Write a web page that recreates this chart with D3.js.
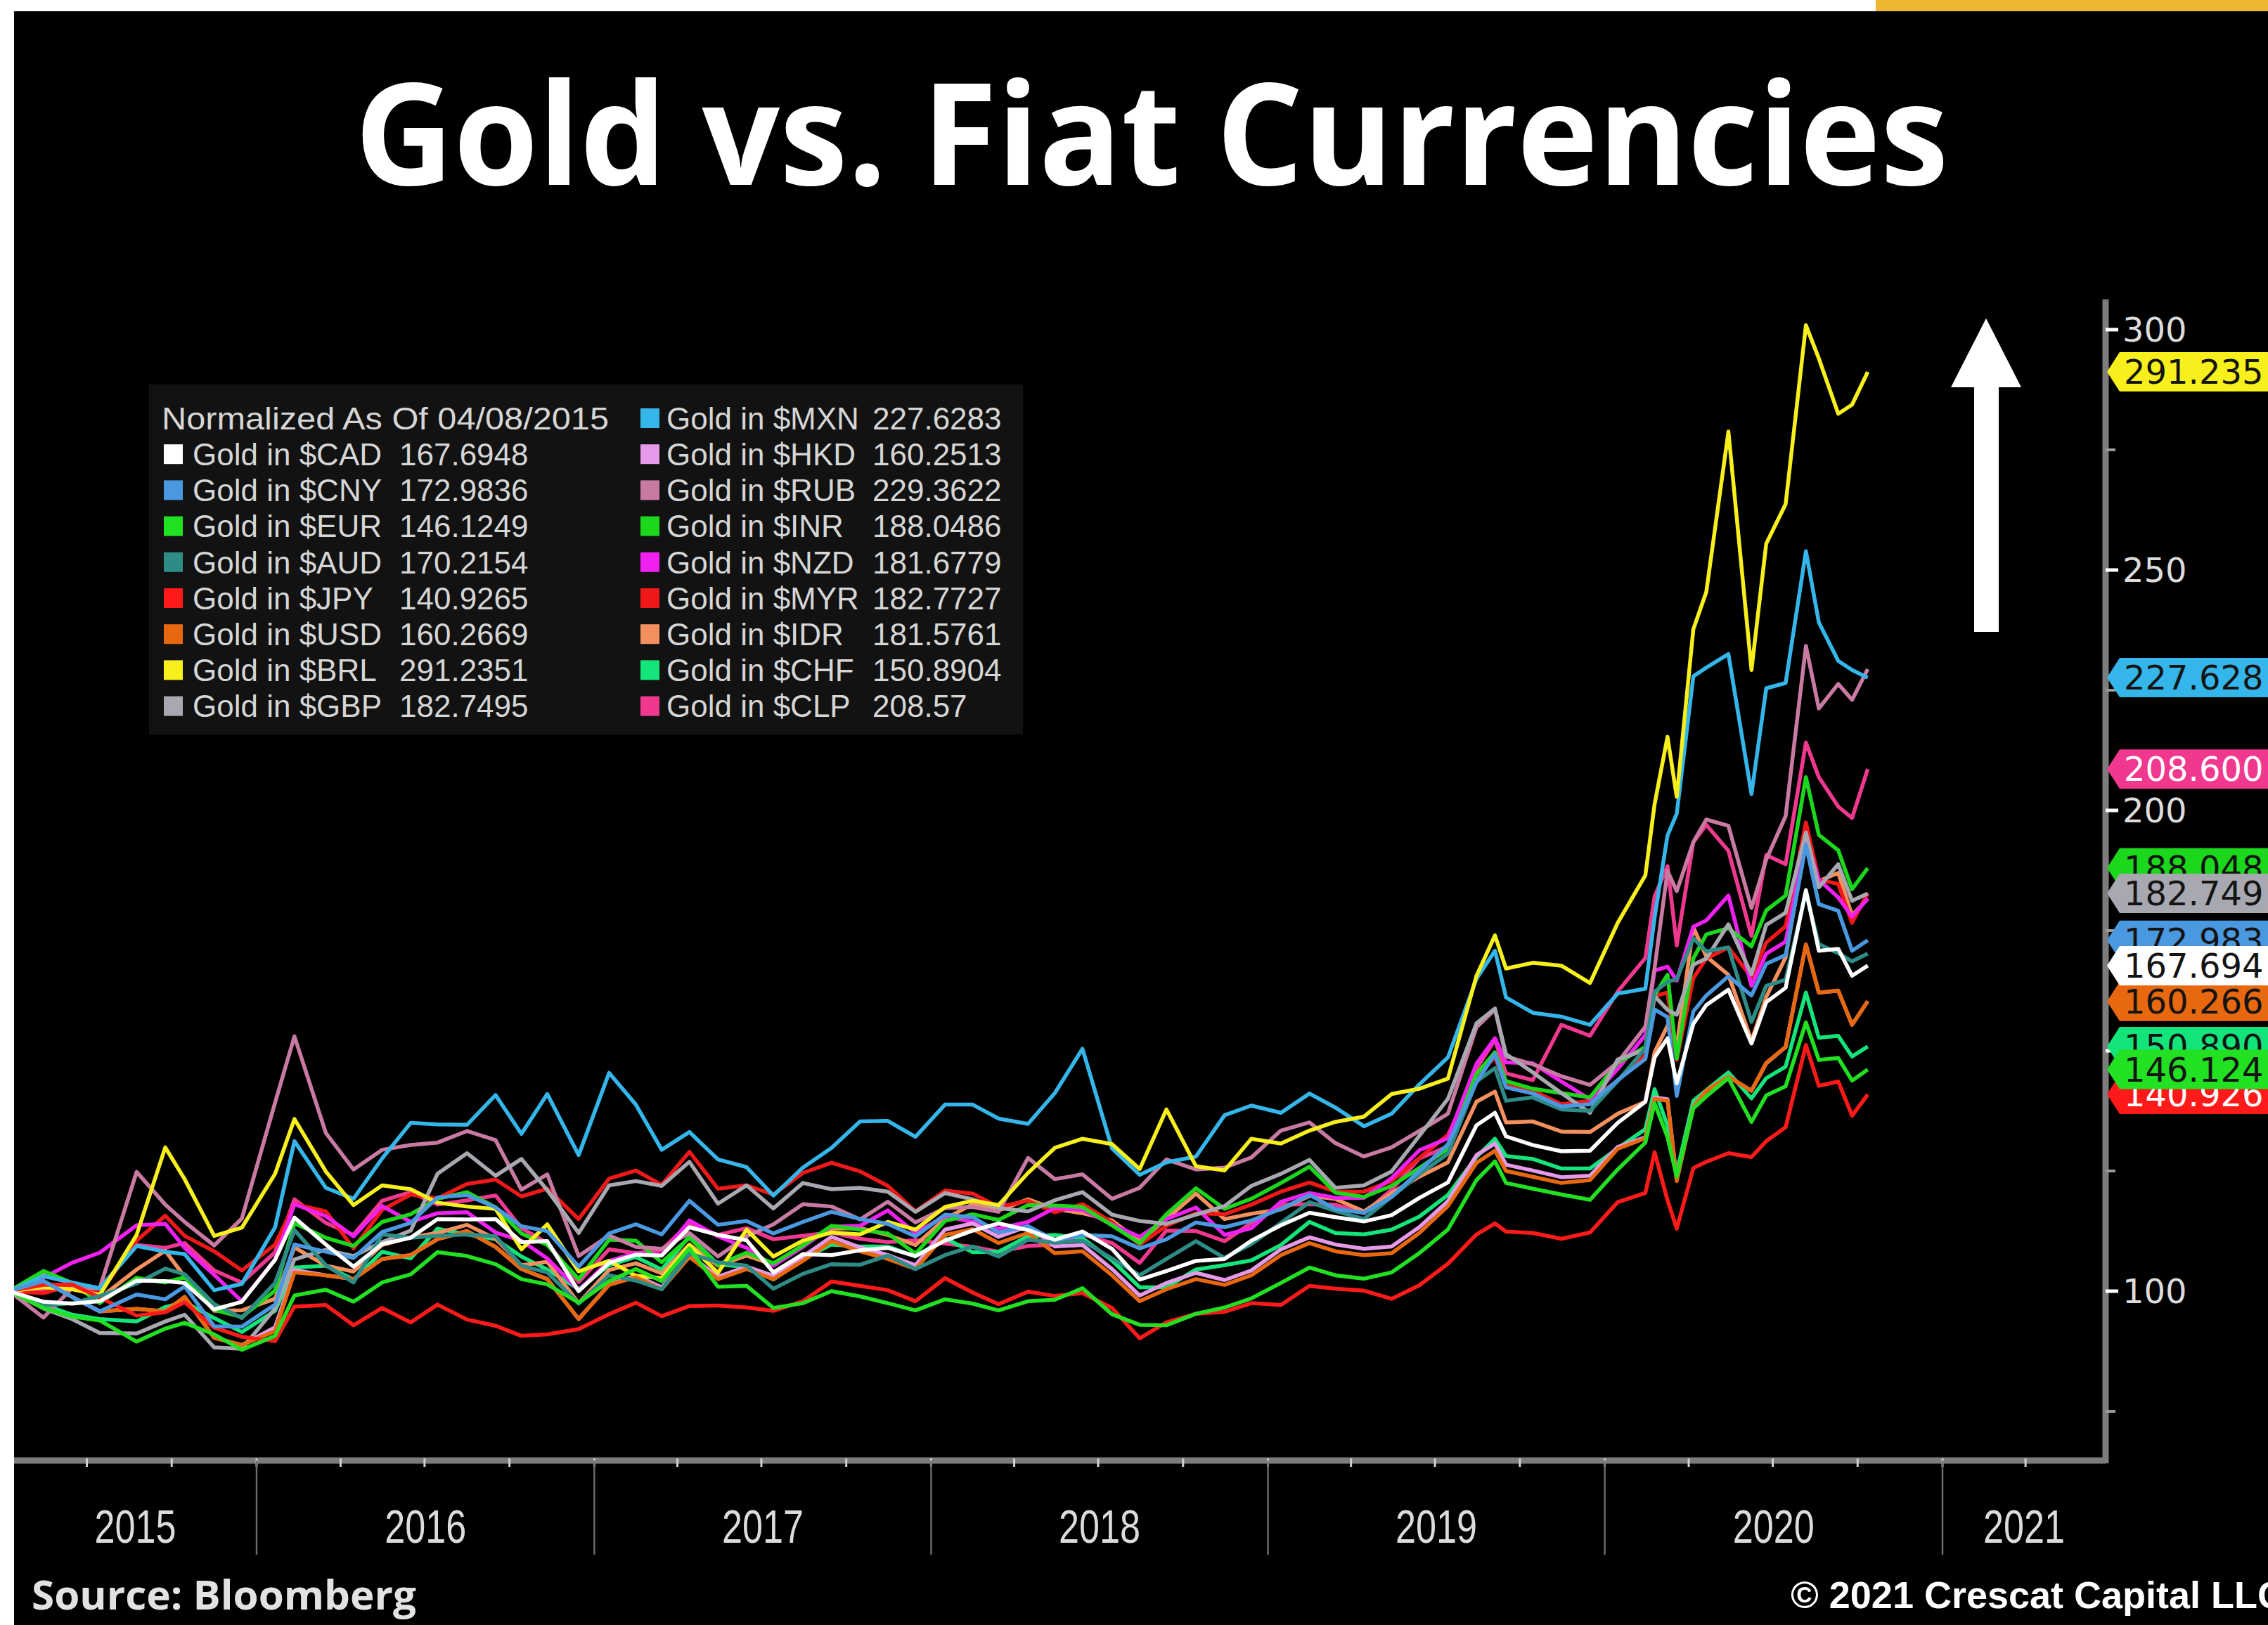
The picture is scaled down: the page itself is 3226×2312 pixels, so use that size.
<!DOCTYPE html>
<html>
<head>
<meta charset="utf-8">
<script src="https://cdnjs.cloudflare.com/ajax/libs/d3/7.8.5/d3.min.js"></script>
<style>
html, body { margin: 0; padding: 0; background: #fff; overflow: hidden; }
svg { display: block; }
</style>
</head>
<body>
<script>
// sample dates (one or two a month, extra points on the big swings)
const dates = [
  "2015-04-08","2015-05-15","2015-06-15","2015-07-15","2015-08-24","2015-09-24","2015-10-15","2015-11-16","2015-12-16",
  "2016-01-21","2016-02-11","2016-03-16","2016-04-15","2016-05-16","2016-06-16","2016-07-15","2016-08-16","2016-09-16","2016-10-14","2016-11-11","2016-12-15",
  "2017-01-17","2017-02-15","2017-03-15","2017-04-14","2017-05-15","2017-06-15","2017-07-14","2017-08-15","2017-09-15","2017-10-16","2017-11-15","2017-12-15",
  "2018-01-16","2018-02-15","2018-03-15","2018-04-16","2018-05-15","2018-06-14","2018-07-16","2018-08-15","2018-09-13","2018-10-15","2018-11-15","2018-12-14",
  "2019-01-15","2019-02-15","2019-03-15","2019-04-15","2019-05-15","2019-06-14","2019-07-15","2019-08-15","2019-09-04","2019-09-16","2019-10-15","2019-11-15","2019-12-16",
  "2020-01-15","2020-02-14","2020-02-24","2020-03-09","2020-03-19","2020-04-06","2020-04-20","2020-05-14","2020-06-08","2020-06-24","2020-07-15","2020-08-06","2020-08-20","2020-09-10","2020-09-25","2020-10-12"
];

// gold normalized to 100 on 04/08/2015, one array per currency
const cad = [100, 97.8, 97.4, 97.9, 102.2, 102.1, 101.7, 96.2, 97.8, 106.5,
  115.3, 109.7, 105.1, 109.8, 111.1, 115.0, 114.9, 115.0, 110.2, 110.4,
  100.0, 105.9, 107.6, 107.4, 113.3, 111.7, 110.6, 103.9, 107.7, 107.5,
  108.5, 109.0, 107.3, 110.5, 112.6, 114.1, 112.7, 110.7, 112.4, 108.8,
  102.4, 104.2, 106.3, 106.7, 110.5, 113.7, 116.3, 115.4, 114.5, 115.8,
  119.4, 122.6, 134.5, 137.1, 132.2, 130.4, 129.1, 129.2, 135.0, 139.4, 148.6,
  152.6, 143.2, 155.6, 159.5, 162.7, 151.5, 160.1, 163.1, 183.4, 170.8,
  171.2, 165.6, 167.7];
const cny = [100, 102.1, 98.8, 95.8, 99.3, 98.3, 101.0, 92.7, 92.6, 97.2,
  109.7, 108.2, 106.9, 112.3, 114.2, 119.5, 120.0, 117.4, 113.5, 112.5,
  105.1, 112.0, 113.9, 111.8, 118.8, 113.8, 114.6, 112.0, 114.4, 116.5,
  115.0, 114.0, 111.4, 115.9, 115.4, 112.2, 113.5, 110.6, 111.7, 111.4,
  108.9, 110.8, 114.3, 113.3, 114.7, 117.1, 120.0, 117.1, 116.3, 119.6,
  125.0, 130.5, 143.5, 149.3, 142.4, 141.1, 138.4, 138.9, 143.9, 148.3, 158.6,
  157.0, 140.6, 158.2, 161.5, 165.5, 161.5, 168.1, 169.9, 192.8, 180.5,
  179.1, 170.8, 173.0];
const eur = [100, 96.5, 94.7, 93.9, 89.5, 92.2, 93.4, 91.0, 87.8, 90.7,
  99.1, 100.3, 97.8, 101.8, 103.5, 108.1, 107.3, 105.6, 102.5, 101.4,
  97.6, 102.1, 104.6, 102.1, 108.9, 100.9, 101.1, 96.5, 97.5, 100.0,
  98.9, 97.5, 96.0, 98.3, 97.4, 96.0, 97.9, 98.2, 100.6, 95.2,
  93.0, 92.9, 95.3, 96.6, 98.5, 101.7, 104.9, 103.3, 102.6, 103.9,
  107.9, 112.8, 123.1, 127.0, 122.5, 121.3, 120.1, 119.0, 125.3, 130.9, 139.1,
  132.0, 123.8, 138.0, 140.5, 144.3, 135.2, 140.7, 142.6, 155.9, 148.1,
  148.5, 143.8, 146.1];
const aud = [100, 97.0, 97.5, 99.0, 101.6, 104.7, 103.5, 97.3, 94.4, 101.7,
  112.7, 105.4, 101.8, 111.8, 111.1, 111.5, 111.8, 111.4, 105.3, 103.9,
  97.4, 103.3, 102.2, 100.4, 107.8, 106.0, 105.3, 100.5, 103.6, 105.6,
  105.5, 107.4, 104.6, 107.5, 109.3, 107.2, 110.7, 110.1, 110.5, 106.8,
  103.3, 106.7, 110.4, 106.9, 109.8, 114.2, 118.5, 116.7, 115.0, 119.6,
  124.3, 128.6, 143.6, 146.4, 139.6, 140.3, 137.8, 137.5, 143.7, 150.5, 162.3,
  164.3, 164.9, 173.4, 170.7, 171.5, 156.0, 163.5, 164.8, 182.9, 172.2,
  170.3, 168.6, 170.2];
const jpy = [100, 101.3, 101.4, 98.7, 94.9, 95.6, 97.7, 92.4, 90.5, 89.6,
  96.8, 97.1, 92.9, 96.5, 93.5, 97.2, 94.1, 92.8, 90.7, 91.0,
  92.1, 95.2, 97.6, 94.8, 96.9, 97.0, 96.6, 95.9, 97.9, 102.0,
  101.1, 100.2, 97.9, 102.7, 99.7, 97.3, 99.9, 99.0, 99.6, 96.5,
  90.2, 93.5, 95.3, 95.7, 97.5, 97.1, 101.1, 100.5, 100.1, 98.4,
  101.2, 105.7, 111.8, 114.1, 112.4, 112.1, 110.9, 112.2, 118.5, 120.4, 128.9,
  118.9, 113.0, 125.6, 126.9, 128.7, 127.9, 131.2, 134.1, 151.2, 142.7,
  143.6, 136.5, 140.9];
const usd = [100, 102.1, 98.8, 95.8, 96.3, 95.8, 98.8, 90.3, 88.8, 91.7,
  103.9, 103.3, 102.5, 106.7, 107.5, 110.8, 112.5, 109.2, 104.6, 102.5,
  94.2, 101.3, 102.9, 100.4, 107.1, 102.5, 104.6, 102.5, 106.3, 110.4,
  108.3, 106.7, 104.6, 111.7, 112.9, 110.0, 112.1, 107.9, 108.3, 103.3,
  97.9, 100.4, 102.5, 101.3, 103.3, 107.5, 110.0, 108.3, 107.5, 107.9,
  112.1, 117.7, 126.7, 129.2, 125.0, 123.8, 122.5, 123.1, 129.6, 131.8, 140.0,
  139.6, 122.9, 138.3, 141.7, 144.6, 141.7, 147.5, 150.8, 172.1, 162.1,
  162.5, 155.4, 160.3];
const brl = [100, 100.8, 100.4, 99.2, 111.7, 129.9, 123.3, 111.5, 113.2, 124.4,
  135.8, 124.9, 117.9, 122.0, 121.2, 118.4, 117.6, 117.1, 108.7, 113.9,
  104.1, 106.3, 103.2, 102.7, 109.6, 103.8, 112.8, 107.2, 110.5, 112.2,
  111.8, 114.4, 112.8, 117.5, 118.8, 117.9, 124.6, 129.8, 131.7, 130.6,
  125.4, 137.8, 126.0, 125.1, 131.7, 130.7, 133.4, 135.2, 136.3, 141.0,
  142.1, 144.2, 165.6, 174.0, 167.1, 168.3, 167.7, 164.1, 176.6, 186.5, 201.3,
  215.3, 202.8, 237.7, 245.4, 278.8, 229.2, 255.5, 263.7, 300.9, 294.0,
  282.5, 284.4, 291.2];
const gbp = [100, 96.4, 94.2, 91.3, 91.2, 93.7, 95.1, 88.3, 88.0, 96.4,
  106.6, 108.6, 107.3, 110.2, 112.6, 124.4, 128.7, 124.0, 127.5, 121.0,
  112.1, 122.0, 122.9, 121.9, 126.9, 118.2, 122.0, 117.2, 122.5, 121.2,
  121.5, 120.7, 116.5, 120.4, 119.1, 117.3, 116.6, 118.9, 120.6, 115.9,
  114.6, 114.0, 115.9, 117.7, 121.9, 124.4, 127.3, 121.5, 122.0, 124.9,
  132.3, 140.0, 155.7, 158.8, 149.3, 145.5, 141.2, 137.1, 148.2, 150.2, 161.4,
  158.5, 157.5, 167.9, 169.2, 176.3, 165.9, 176.2, 178.7, 195.4, 184.0,
  188.8, 181.2, 182.7];
const mxn = [100, 103.1, 101.8, 100.6, 109.4, 108.2, 107.7, 100.2, 101.5, 113.3,
  131.2, 121.5, 119.2, 127.6, 135.0, 134.7, 134.6, 140.8, 132.7, 141.0,
  128.3, 145.4, 138.8, 129.4, 133.1, 127.4, 125.8, 119.9, 125.7, 129.8,
  135.3, 135.4, 132.1, 138.8, 138.8, 135.9, 134.8, 141.2, 150.4, 129.7,
  124.2, 126.8, 128.0, 136.6, 138.6, 137.1, 141.1, 138.2, 134.3, 136.9,
  143.0, 148.6, 165.0, 170.8, 161.1, 157.9, 157.1, 155.4, 161.9, 162.9, 177.7,
  194.8, 199.3, 227.9, 229.7, 232.5, 203.4, 225.4, 226.5, 253.9, 239.1,
  231.1, 229.2, 227.6];
const hkd = [100, 102.1, 98.8, 95.8, 96.3, 95.8, 98.8, 90.3, 88.8, 92.5,
  104.4, 103.3, 102.5, 106.7, 107.5, 110.8, 112.5, 109.2, 104.6, 102.5,
  94.2, 101.4, 103.2, 100.8, 107.5, 103.0, 105.1, 103.2, 107.2, 111.3,
  109.1, 107.5, 105.4, 112.8, 114.1, 111.3, 113.5, 109.3, 109.6, 104.6,
  99.1, 101.7, 103.8, 102.3, 104.3, 108.7, 111.2, 109.7, 108.8, 109.3,
  113.3, 118.7, 128.3, 130.7, 126.3, 125.1, 123.7, 124.0, 130.0, 132.0, 140.3,
  139.9, 123.2, 138.4, 141.7, 144.6, 141.7, 147.4, 150.8, 172.1, 162.1,
  162.5, 155.4, 160.3];
const rub = [100, 94.5, 100.6, 100.6, 124.8, 118.0, 114.4, 109.5, 115.1, 139.2,
  153.0, 132.9, 125.3, 129.4, 130.4, 130.9, 133.3, 131.4, 121.1, 124.3,
  107.3, 111.6, 109.2, 108.8, 112.1, 107.2, 111.4, 113.9, 118.1, 117.6,
  114.9, 118.6, 114.3, 117.3, 117.5, 116.5, 127.7, 123.3, 124.3, 119.2,
  121.5, 127.4, 125.3, 125.7, 127.8, 133.4, 135.1, 130.8, 128.0, 129.9,
  133.3, 136.9, 154.9, 158.6, 148.8, 147.2, 144.7, 142.9, 147.6, 155.0, 167.2,
  187.4, 183.2, 193.4, 198.1, 196.8, 179.7, 189.8, 198.8, 234.2, 221.2,
  226.3, 223.0, 229.4];
const inr = [100, 104.2, 101.7, 97.5, 102.8, 101.8, 102.9, 96.1, 94.6, 100.1,
  114.1, 111.1, 109.4, 114.4, 116.0, 119.2, 120.6, 117.4, 112.0, 109.6,
  102.5, 110.7, 110.5, 106.0, 111.1, 105.5, 108.0, 105.8, 109.5, 113.6,
  112.8, 112.0, 107.8, 114.6, 116.0, 114.8, 117.9, 117.8, 117.5, 113.7,
  110.0, 116.0, 121.4, 117.1, 119.2, 122.5, 125.9, 120.5, 119.6, 121.9,
  125.6, 129.6, 145.2, 149.7, 143.7, 142.1, 141.2, 140.3, 147.5, 150.8, 161.6,
  165.8, 148.4, 169.2, 174.2, 175.5, 171.7, 179.2, 182.3, 206.9, 194.9,
  191.7, 183.6, 188.0];
const nzd = [100, 102.8, 105.9, 108.0, 113.7, 114.0, 109.0, 103.4, 97.9, 106.6,
  118.1, 115.6, 111.4, 117.7, 114.4, 116.2, 116.4, 112.2, 110.5, 106.8,
  100.2, 106.3, 107.9, 107.6, 114.7, 111.4, 109.0, 105.3, 109.2, 113.4,
  113.6, 116.8, 112.1, 115.6, 114.4, 113.0, 114.4, 117.3, 116.9, 113.9,
  111.3, 115.0, 117.4, 111.7, 113.1, 118.6, 120.4, 119.4, 119.4, 123.5,
  129.3, 131.8, 147.3, 152.6, 147.6, 147.4, 143.6, 139.9, 146.2, 153.3, 166.7,
  167.5, 164.6, 175.8, 177.1, 182.3, 163.5, 170.2, 172.7, 194.1, 185.6,
  181.9, 177.9, 181.7];
const myr = [100, 99.6, 101.2, 99.5, 110.5, 115.7, 111.5, 108.3, 104.3, 109.7,
  118.1, 116.6, 108.9, 116.9, 120.1, 119.3, 122.3, 123.2, 119.7, 121.3,
  115.0, 123.4, 125.1, 122.1, 129.0, 121.3, 122.0, 120.1, 124.6, 126.7,
  124.9, 121.9, 116.6, 120.9, 120.3, 117.5, 118.8, 116.4, 118.1, 114.3,
  109.7, 113.6, 116.2, 116.0, 118.0, 120.7, 122.6, 120.7, 120.7, 122.9,
  127.7, 132.5, 145.0, 148.6, 142.8, 141.7, 138.9, 139.6, 143.8, 149.1, 161.4,
  162.1, 148.1, 165.1, 169.2, 171.5, 165.3, 172.5, 175.9, 197.5, 185.6,
  184.7, 176.6, 182.8];
const idr = [100, 103.3, 101.7, 98.5, 104.5, 108.4, 103.0, 95.9, 96.0, 98.4,
  109.1, 105.3, 104.1, 109.6, 111.2, 112.1, 113.8, 110.9, 105.4, 106.1,
  97.5, 104.4, 105.8, 103.7, 109.7, 105.3, 107.4, 105.5, 109.6, 113.0,
  113.1, 111.7, 109.6, 115.0, 118.1, 116.8, 119.1, 117.1, 116.2, 114.7,
  110.4, 115.0, 120.3, 115.0, 116.1, 117.0, 119.8, 119.2, 116.6, 120.4,
  123.8, 126.8, 139.4, 141.5, 135.1, 135.3, 133.2, 133.1, 136.9, 139.4, 149.7,
  155.2, 150.9, 175.7, 169.6, 165.8, 152.1, 161.2, 169.4, 194.0, 185.3,
  187.0, 178.2, 181.6];
const chf = [100, 97.2, 95.1, 94.2, 93.7, 96.7, 97.7, 94.4, 91.5, 95.9,
  104.9, 105.3, 102.4, 108.2, 106.8, 113.0, 111.8, 110.8, 107.2, 104.5,
  100.4, 105.4, 107.1, 104.5, 111.4, 105.6, 105.0, 102.4, 106.7, 109.7,
  109.3, 109.3, 107.2, 111.0, 108.1, 108.2, 111.4, 111.7, 111.0, 106.4,
  100.8, 100.8, 104.5, 105.4, 106.4, 109.6, 114.4, 112.1, 111.8, 112.8,
  115.5, 120.0, 127.9, 131.7, 128.1, 127.5, 125.5, 125.5, 129.7, 133.7, 142.0,
  134.4, 124.7, 139.6, 141.8, 145.5, 140.1, 144.3, 146.7, 162.1, 152.7,
  153.1, 148.8, 150.9];
const clp = [100, 100.4, 100.4, 100.5, 109.6, 109.0, 110.0, 104.3, 101.8, 108.1,
  119.1, 114.2, 111.7, 118.8, 120.6, 118.0, 118.9, 119.9, 113.1, 110.0,
  101.9, 108.7, 107.9, 108.6, 114.1, 111.7, 113.1, 110.8, 111.5, 112.2,
  110.9, 110.2, 110.6, 109.9, 109.2, 108.2, 109.4, 109.7, 111.8, 110.0,
  105.9, 112.6, 112.5, 110.4, 114.2, 118.0, 118.1, 118.0, 116.2, 121.1,
  127.6, 130.1, 146.3, 152.3, 145.3, 143.9, 155.4, 153.1, 162.3, 169.3, 182.1,
  188.4, 171.9, 193.4, 197.0, 191.6, 173.9, 190.7, 188.8, 214.1, 206.9,
  200.8, 198.4, 208.6];

const series = [
  {key: "CAD", last: 167.6948, color: "#ffffff", values: cad},
  {key: "CNY", last: 172.9836, color: "#4a98e0", values: cny},
  {key: "EUR", last: 146.1249, color: "#22e022", values: eur},
  {key: "AUD", last: 170.2154, color: "#2e8c86", values: aud},
  {key: "JPY", last: 140.9265, color: "#ff1a1a", values: jpy},
  {key: "USD", last: 160.2669, color: "#e8680f", values: usd},
  {key: "BRL", last: 291.2351, color: "#f8f01c", values: brl},
  {key: "GBP", last: 182.7495, color: "#a8a8b0", values: gbp},
  {key: "MXN", last: 227.6283, color: "#34b6ea", values: mxn},
  {key: "HKD", last: 160.2513, color: "#e49ae8", values: hkd},
  {key: "RUB", last: 229.3622, color: "#c87aa2", values: rub},
  {key: "INR", last: 188.0486, color: "#1cd81c", values: inr},
  {key: "NZD", last: 181.6779, color: "#f020f0", values: nzd},
  {key: "MYR", last: 182.7727, color: "#f01818", values: myr},
  {key: "IDR", last: 181.5761, color: "#f4905e", values: idr},
  {key: "CHF", last: 150.8904, color: "#14e57a", values: chf},
  {key: "CLP", last: 208.57, color: "#f0388f", values: clp}
];

// right-hand value tags, drawn in this order (later ones sit on top)
const tagKeys   = ["CNY", "INR", "CHF", "JPY", "USD", "GBP", "CAD", "EUR", "BRL", "MXN", "CLP"];
const tagValues = [172.983, 188.048, 150.890, 140.926, 160.266, 182.749, 167.694, 146.124, 291.235, 227.628, 208.600];

const yTicks = [100, 150, 200, 250, 300];
const yMinorTicks = [75, 125, 175, 225, 275];
const years = [2015, 2016, 2017, 2018, 2019, 2020, 2021];

const W = 3226, H = 2312;
const plot = {left: 20, right: 2995, top: 426, bottom: 2078};

const parse = d3.timeParse("%Y-%m-%d");
const parsedDates = dates.map(parse);

const x = d3.scaleTime()
  .domain([new Date(2016, 0, 1), new Date(2021, 0, 1)])
  .range([365, 2763]);
const y = d3.scaleLinear()
  .domain([100, 300])
  .range([1837, 469]);

const svg = d3.select("body").append("svg")
  .attr("width", W)
  .attr("height", H);

svg.append("rect").attr("width", W).attr("height", H).attr("fill", "#ffffff");
svg.append("rect")
  .attr("x", 20).attr("y", 16)
  .attr("width", W - 20).attr("height", H - 16)
  .attr("fill", "#000000");
svg.append("rect")
  .attr("x", 2668).attr("y", 0)
  .attr("width", W - 2668).attr("height", 16)
  .attr("fill", "#edb631");

// title
svg.append("text")
  .attr("x", 1638).attr("y", 263)
  .attr("text-anchor", "middle")
  .attr("font-family", "'Open Sans', 'Noto Sans', sans-serif")
  .attr("font-weight", 700)
  .attr("font-size", 202)
  .attr("textLength", 2267)
  .attr("lengthAdjust", "spacingAndGlyphs")
  .attr("fill", "#ffffff")
  .text("Gold vs. Fiat Currencies");

// lines
svg.append("clipPath").attr("id", "plotClip")
  .append("rect")
  .attr("x", plot.left).attr("y", plot.top)
  .attr("width", plot.right - plot.left).attr("height", plot.bottom - plot.top);

const line = d3.line()
  .defined(d => d.v != null)
  .x(d => x(d.date))
  .y(d => y(d.v));

const lines = svg.append("g").attr("clip-path", "url(#plotClip)");
series.slice().reverse().forEach(s => {
  const pts = parsedDates.map((dt, i) => ({date: dt, v: s.values[i]}));
  lines.append("path")
    .datum(pts)
    .attr("fill", "none")
    .attr("stroke", s.color)
    .attr("stroke-width", 5.5)
    .attr("stroke-linejoin", "round")
    .attr("d", line);
});

// x axis
const axisG = svg.append("g");
axisG.append("line")
  .attr("x1", plot.left).attr("x2", plot.right)
  .attr("y1", plot.bottom).attr("y2", plot.bottom)
  .attr("stroke", "#7c7c7c").attr("stroke-width", 9);

const quarterTicks = d3.timeMonth.every(3).range(x.invert(plot.left), x.invert(plot.right));
axisG.selectAll(".qtick")
  .data(quarterTicks)
  .enter().append("line")
  .attr("x1", d => x(d)).attr("x2", d => x(d))
  .attr("y1", plot.bottom - 3).attr("y2", plot.bottom + 9)
  .attr("stroke", "#d0d0d0").attr("stroke-width", 3);

axisG.selectAll(".ysep")
  .data(years.slice(1))
  .enter().append("line")
  .attr("x1", d => x(new Date(d, 0, 1))).attr("x2", d => x(new Date(d, 0, 1)))
  .attr("y1", plot.bottom).attr("y2", 2212)
  .attr("stroke", "#6a6a6a").attr("stroke-width", 2.5);

axisG.selectAll(".ylab")
  .data(years)
  .enter().append("text")
  .attr("x", d => {
    const a = Math.max(x(new Date(d, 0, 1)), plot.left);
    const b = Math.min(x(new Date(d + 1, 0, 1)), plot.right);
    return (a + b) / 2;
  })
  .attr("y", 2195)
  .attr("text-anchor", "middle")
  .attr("font-family", "'Liberation Sans Narrow', 'Liberation Sans', sans-serif")
  .attr("font-size", 66)
  .attr("textLength", 116)
  .attr("lengthAdjust", "spacingAndGlyphs")
  .attr("fill", "#dcdcdc")
  .text(d => d);

// y axis (right)
axisG.append("line")
  .attr("x1", plot.right).attr("x2", plot.right)
  .attr("y1", plot.top).attr("y2", plot.bottom + 4)
  .attr("stroke", "#7c7c7c").attr("stroke-width", 9);

axisG.selectAll(".yminor")
  .data(yMinorTicks)
  .enter().append("line")
  .attr("x1", plot.right).attr("x2", plot.right + 14)
  .attr("y1", d => y(d)).attr("y2", d => y(d))
  .attr("stroke", "#9a9a9a").attr("stroke-width", 4);

axisG.selectAll(".ytick")
  .data(yTicks)
  .enter().append("line")
  .attr("x1", plot.right).attr("x2", plot.right + 18)
  .attr("y1", d => y(d)).attr("y2", d => y(d))
  .attr("stroke", "#ffffff").attr("stroke-width", 5);

axisG.selectAll(".ytext")
  .data(yTicks)
  .enter().append("text")
  .attr("x", plot.right + 24)
  .attr("y", d => y(d))
  .attr("dy", "0.36em")
  .attr("font-family", "'DejaVu Sans', sans-serif")
  .attr("font-size", 48)
  .attr("fill", "#dcdcdc")
  .text(d => d);

// value tags
const byKey = {};
series.forEach(s => { byKey[s.key] = s; });
const tagG = svg.append("g");
tagKeys.forEach((k, i) => {
  const s = byKey[k];
  const cy = y(tagValues[i]);
  const h = 56, tip = plot.right + 2, body = plot.right + 20;
  tagG.append("path")
    .attr("d", `M${tip},${cy} L${body},${cy - h / 2} L${W + 2},${cy - h / 2} L${W + 2},${cy + h / 2} L${body},${cy + h / 2} Z`)
    .attr("fill", s.color);
  tagG.append("text")
    .attr("x", body + 6)
    .attr("y", cy)
    .attr("dy", "0.36em")
    .attr("font-family", "'DejaVu Sans', sans-serif")
    .attr("font-size", 48)
    .attr("fill", (k === "CLP" || k === "JPY") ? "#ffffff" : "#141414")
    .text(d3.format(".3f")(tagValues[i]));
});

// big up arrow
svg.append("path")
  .attr("d", "M2825,453 L2875,551 L2843,551 L2843,899 L2808,899 L2808,551 L2775,551 Z")
  .attr("fill", "#ffffff");

// legend
const legend = svg.append("g");
legend.append("rect")
  .attr("x", 212).attr("y", 547)
  .attr("width", 1243).attr("height", 498)
  .attr("fill", "#121212");

const rowY = i => 595 + i * 51.2;
const legendFont = "'Liberation Sans', 'Arial', sans-serif";
legend.append("text")
  .attr("x", 230).attr("y", rowY(0)).attr("dy", "0.36em")
  .attr("font-family", legendFont).attr("font-size", 44)
  .attr("textLength", 636).attr("lengthAdjust", "spacingAndGlyphs")
  .attr("fill", "#d6d6d6")
  .text("Normalized As Of 04/08/2015");

const leftCol = series.slice(0, 8).map((s, i) => ({s, row: i + 1, sq: 233, lab: 274, val: 568}));
const rightCol = series.slice(8).map((s, i) => ({s, row: i, sq: 911, lab: 948, val: 1241}));
leftCol.concat(rightCol).forEach(e => {
  const cy = rowY(e.row);
  legend.append("rect")
    .attr("x", e.sq).attr("y", cy - 14)
    .attr("width", 27).attr("height", 28)
    .attr("fill", e.s.color);
  legend.append("text")
    .attr("x", e.lab).attr("y", cy).attr("dy", "0.36em")
    .attr("font-family", legendFont).attr("font-size", 44)
    .attr("fill", "#d6d6d6")
    .text("Gold in $" + e.s.key);
  legend.append("text")
    .attr("x", e.val).attr("y", cy).attr("dy", "0.36em")
    .attr("font-family", legendFont).attr("font-size", 44)
    .attr("fill", "#d6d6d6")
    .text(String(e.s.last));
});

// footer
svg.append("text")
  .attr("x", 45).attr("y", 2290)
  .attr("font-family", "'Open Sans', 'Noto Sans', sans-serif")
  .attr("font-weight", 700)
  .attr("font-size", 57)
  .attr("textLength", 547)
  .attr("lengthAdjust", "spacingAndGlyphs")
  .attr("fill", "#e2e2e2")
  .text("Source: Bloomberg");

svg.append("text")
  .attr("x", 2547).attr("y", 2288)
  .attr("font-family", "'Liberation Sans', 'Arial', sans-serif")
  .attr("font-weight", 700)
  .attr("font-size", 54)
  .attr("fill", "#ffffff")
  .text("\u00a9 2021 Crescat Capital LLC");
</script>
</body>
</html>
